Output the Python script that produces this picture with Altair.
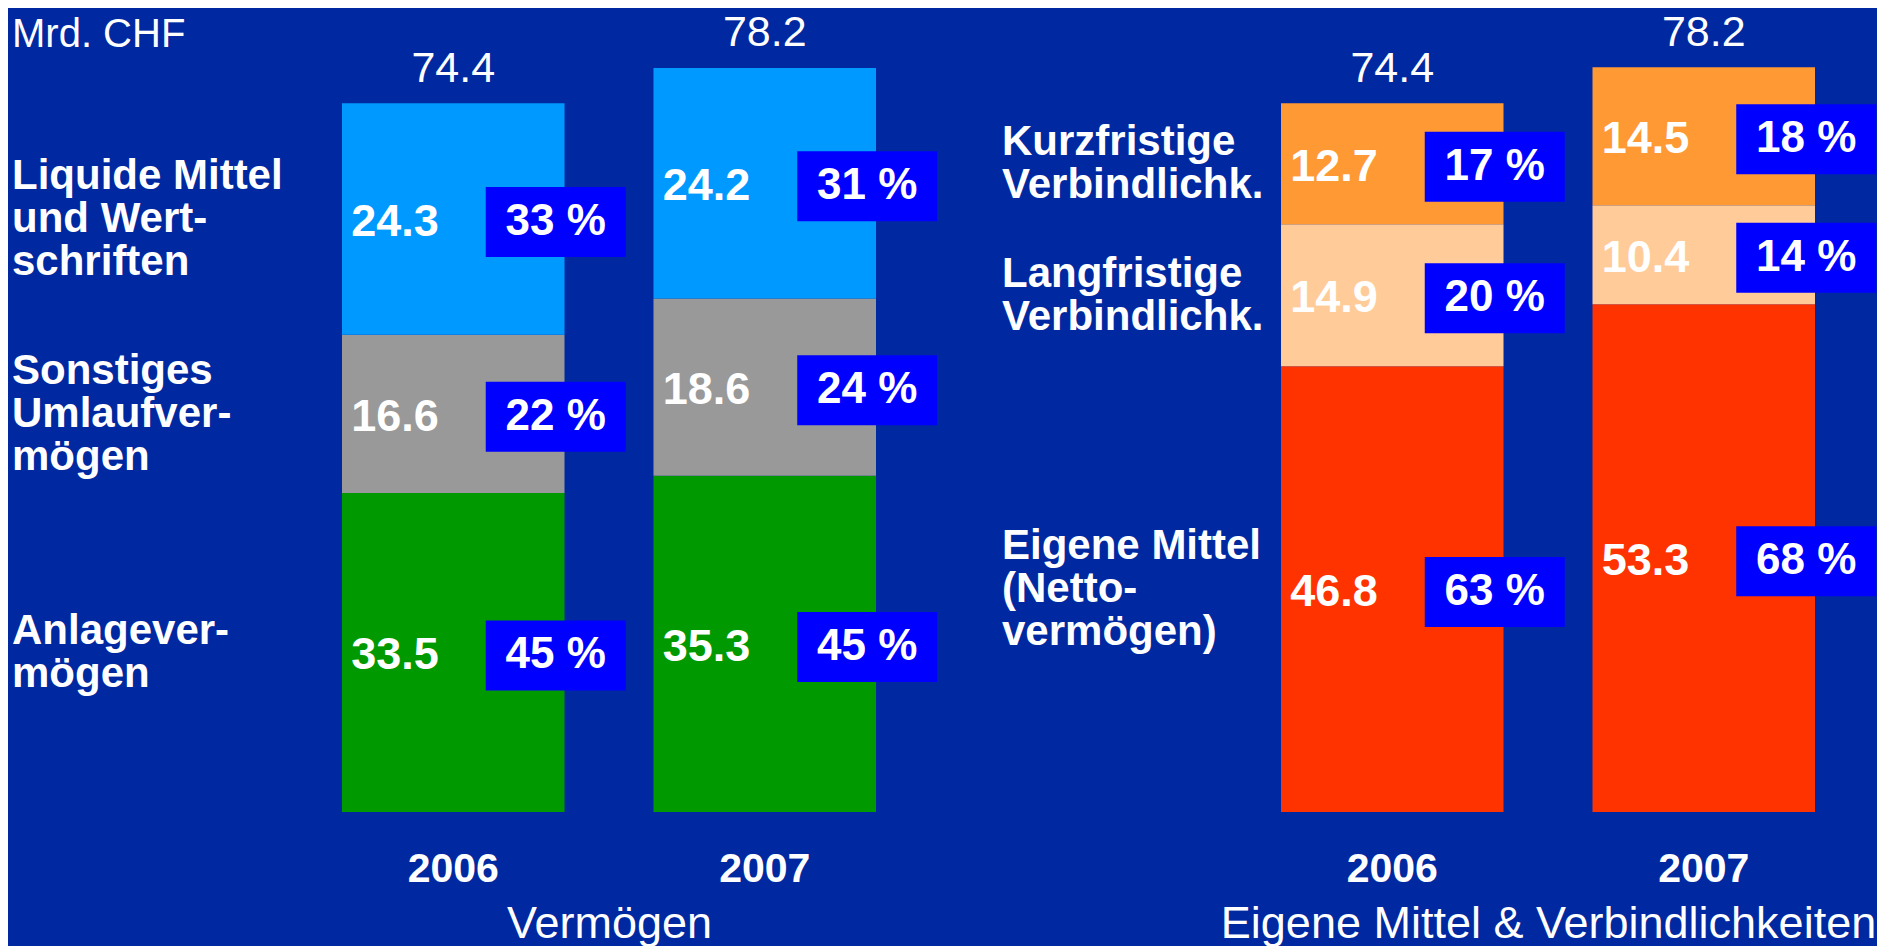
import altair as alt
import pandas as pd

# ---------------- data ----------------
years = ["2006", "2007"]

# Vermögen (bottom -> top)
asset_categories = ["Anlagevermögen", "Sonstiges Umlaufvermögen", "Liquide Mittel und Wertschriften"]
asset_labels = ["Anlagever-\nmögen", "Sonstiges\nUmlaufver-\nmögen", "Liquide Mittel\nund Wert-\nschriften"]
asset_2006 = [33.5, 16.6, 24.3]
asset_2007 = [35.3, 18.6, 24.2]
asset_pct_2006 = ["45 %", "22 %", "33 %"]
asset_pct_2007 = ["45 %", "24 %", "31 %"]
asset_totals = [74.4, 78.2]
asset_colors = ["#009900", "#999999", "#0099FF"]

# Eigene Mittel & Verbindlichkeiten (bottom -> top)
liab_categories = ["Eigene Mittel (Nettovermögen)", "Langfristige Verbindlichk.", "Kurzfristige Verbindlichk."]
liab_labels = ["Eigene Mittel\n(Netto-\nvermögen)", "Langfristige\nVerbindlichk.", "Kurzfristige\nVerbindlichk."]
liab_2006 = [46.8, 14.9, 12.7]
liab_2007 = [53.3, 10.4, 14.5]
liab_pct_2006 = ["63 %", "20 %", "17 %"]
liab_pct_2007 = ["68 %", "14 %", "18 %"]
liab_totals = [74.4, 78.2]
liab_colors = ["#FF3300", "#FFCC99", "#FF9933"]

unit_label = "Mrd. CHF"
panel_titles = ["Vermögen", "Eigene Mittel & Verbindlichkeiten"]

# ---------------- styling ----------------
BG = "#0029A1"
BOX = "#0000FF"
FONT = "Liberation Sans"
PANEL_W = 534
PANEL_H = 762
Y_MAX = 80
LINE_H = 43


def build_rows(categories, labels, v06, v07, p06, p07):
    rows = []
    for year, vals, pcts in [(years[0], v06, p06), (years[1], v07, p07)]:
        base = 0.0
        for cat, lab, v, p in zip(categories, labels, vals, pcts):
            rows.append(dict(year=year, cat=cat, label=lab, nlines=lab.count("\n") + 1, value=v,
                             y0=base, y1=base + v, mid=base + v / 2, pct=p))
            base += v
    return pd.DataFrame(rows)


def panel(categories, labels, v06, v07, p06, p07, totals, colors, title, label_dx, with_unit):
    df = build_rows(categories, labels, v06, v07, p06, p07)
    tot = pd.DataFrame({"year": years, "total": totals})
    lab = df[df["year"] == years[0]]

    x = alt.X("year:N",
              scale=alt.Scale(domain=years, paddingInner=0.2857, paddingOuter=0),
              axis=alt.Axis(labelAngle=0, ticks=False, tickSize=0, domain=False, grid=False,
                            labelFontSize=41, labelFontWeight="bold", labelColor="white",
                            labelPadding=37, labelFont=FONT,
                            titleFontSize=45, titleFontWeight="normal", titleColor="white",
                            titlePadding=12, titleFont=FONT),
              title=title)
    yscale = alt.Scale(domain=[0, Y_MAX], nice=False)

    bars = alt.Chart(df).mark_bar(stroke=None).encode(
        x=x,
        y=alt.Y("y0:Q", scale=yscale, axis=None),
        y2="y1:Q",
        color=alt.Color("cat:N", scale=alt.Scale(domain=categories, range=colors), legend=None),
    )
    values = alt.Chart(df).mark_text(align="left", baseline="middle", dx=-102, dy=3,
                                     fontSize=45, fontWeight="bold", color="white", font=FONT).encode(
        x=alt.X("year:N"), y=alt.Y("mid:Q"), text=alt.Text("value:Q", format=".1f"))
    boxes = alt.Chart(df).mark_point(shape="M-1,-0.5H1V0.5H-1Z", size=19600, filled=True,
                                     color=BOX, opacity=1, strokeOpacity=0,
                                     xOffset=102.5, yOffset=3).encode(
        x=alt.X("year:N"), y=alt.Y("mid:Q"))
    pcts = alt.Chart(df).mark_text(align="center", baseline="middle", dx=102.5, dy=3,
                                   fontSize=44, fontWeight="bold", color="white", font=FONT).encode(
        x=alt.X("year:N"), y=alt.Y("mid:Q"), text="pct:N")
    totals_txt = alt.Chart(tot).mark_text(align="center", baseline="alphabetic", dy=-21,
                                          fontSize=43, color="white", font=FONT).encode(
        x=alt.X("year:N"), y=alt.Y("total:Q"), text=alt.Text("total:Q", format=".1f"))

    layers = [bars, values, boxes, pcts, totals_txt]
    # category labels, vertically centred on the 2006 segment (multi-line blocks shifted up)
    for n in sorted(lab["nlines"].unique()):
        sub = lab[lab["nlines"] == n]
        layers.append(alt.Chart(sub).mark_text(
            align="left", baseline="middle", fontSize=42, fontWeight="bold",
            lineHeight=LINE_H, lineBreak="\n", color="white", font=FONT,
            dy=-(n - 1) * LINE_H / 2).encode(
            x=alt.value(label_dx), y=alt.Y("mid:Q"), text="label:N"))

    if with_unit:
        unit = alt.Chart(pd.DataFrame({"t": [unit_label]})).mark_text(
            align="left", baseline="alphabetic", fontSize=40, color="white", font=FONT).encode(
            x=alt.value(label_dx), y=alt.value(-3), text="t:N")
        layers.append(unit)
    return alt.layer(*layers).properties(width=PANEL_W, height=PANEL_H)


left = panel(asset_categories, asset_labels, asset_2006, asset_2007, asset_pct_2006, asset_pct_2007,
             asset_totals, asset_colors, panel_titles[0], -330, True)
right = panel(liab_categories, liab_labels, liab_2006, liab_2007, liab_pct_2006, liab_pct_2007,
              liab_totals, liab_colors, panel_titles[1], -279, False)

chart = alt.hconcat(left, right, spacing=405, bounds="flush").resolve_scale(
    color="independent"
).properties(
    background=BG,
    padding={"left": 4, "top": 4, "right": 0, "bottom": 0},
).configure(font=FONT).configure_view(stroke=None)

chart.save("out.html", embed_options={"renderer": "svg", "actions": False})
